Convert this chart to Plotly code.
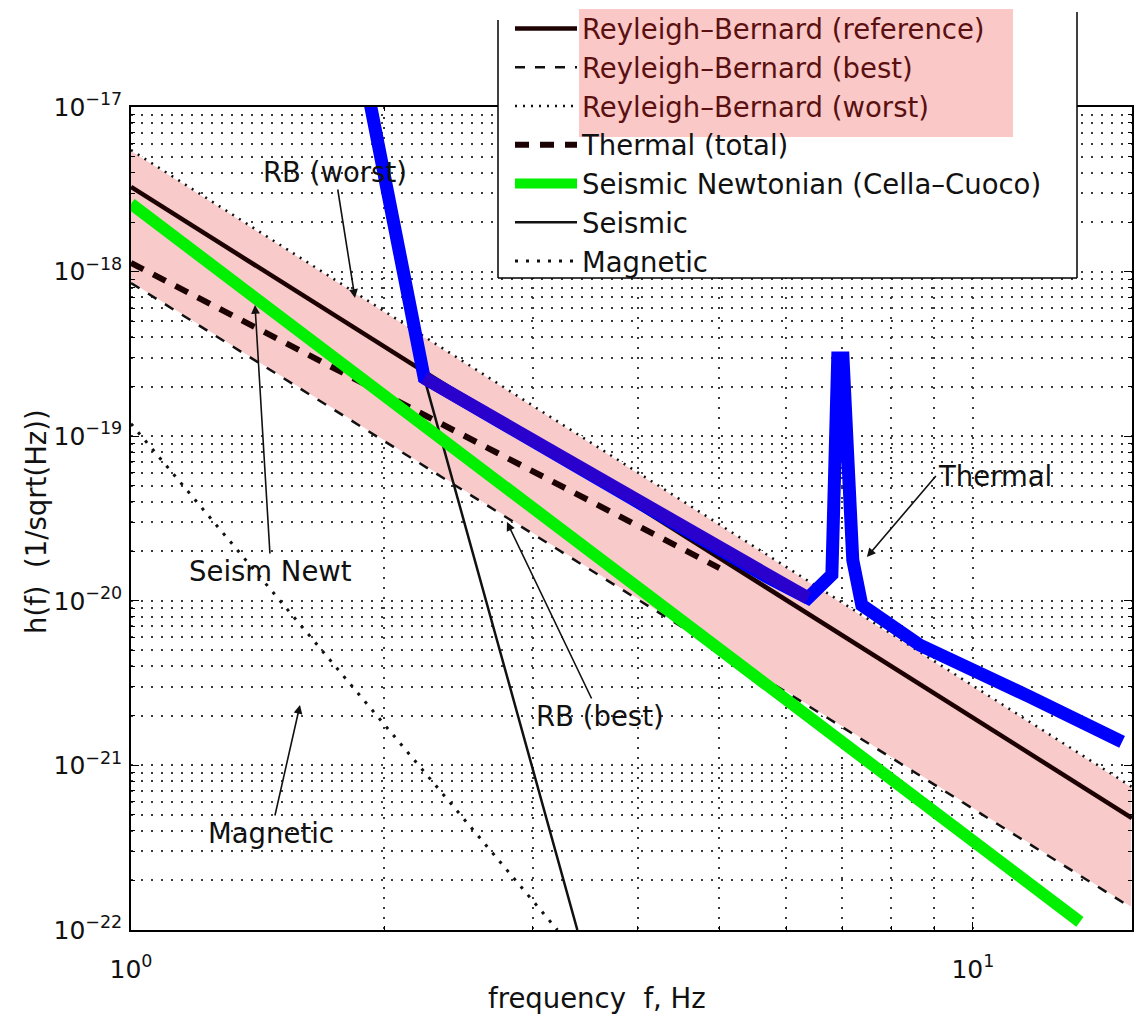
import plotly.graph_objects as go

# ---- noise budget curves, strain h(f) in 1/sqrt(Hz) vs frequency in Hz ----
f_rb = [1.0, 15.45]
h_rb_ref = [3.27e-18, 4.79e-22]
h_rb_best = [8.53e-19, 1.36e-22]
h_rb_worst = [5.48e-18, 7.4e-22]

f_thermal = [1.0, 5.0]
h_thermal = [1.13e-18, 1.58e-20]

f_newt = [1.0, 13.4]
h_newt = [2.58e-18, 1.12e-22]

f_seis = [1.93, 2.23, 3.39]
h_seis = [1.0e-17, 2.26e-19, 1.0e-22]

f_mag = [1.0, 3.21]
h_mag = [1.19e-19, 1.0e-22]

# hand-traced total sensitivity (blue), with the resonance spike near 7 Hz
f_total = [1.92, 2.23, 5.69, 6.37, 6.80, 6.91, 7.01, 7.20, 7.38, 8.65, 11.69, 15.04]
h_total = [1.1e-17, 2.26e-19, 1.40e-20, 1.04e-20, 1.44e-20, 2.99e-19, 2.99e-19,
           1.77e-20, 9.42e-21, 5.38e-21, 2.61e-21, 1.39e-21]
in_band = slice(1, 4)  # portion of the total running inside the RB band

# axis ticks (labelled decades) and grid positions
x_major = [1, 10]
x_major_text = ["10<sup>0</sup>", "10<sup>1</sup>"]
x_minor = [2, 3, 4, 5, 6, 7, 8, 9]
y_exponents = [-22, -21, -20, -19, -18, -17]
y_major = [10.0 ** e for e in y_exponents]
y_major_text = ["10<sup>\u2212%d</sup>" % abs(e) for e in y_exponents]
y_minor = [k * 10.0 ** e for e in y_exponents[:-1] for k in range(2, 10)]

FONT = "DejaVu Sans"
INK = "#111111"
BAND_INK = "#1c0202"
PINK = "#f9caca"
HL = "<span style='color:#5a1010'>%s</span>"
TXT = 27.5
TICK = 25

fig = go.Figure()

# RB uncertainty band between best and worst cases
fig.add_trace(go.Scatter(
    x=f_rb + f_rb[::-1], y=h_rb_worst + h_rb_best[::-1],
    fill="toself", fillcolor=PINK, mode="lines",
    line=dict(color="white", width=1.5), showlegend=False, hoverinfo="skip"))

fig.add_trace(go.Scatter(
    x=f_rb, y=h_rb_worst, mode="lines", name=HL % "Reyleigh\u2013Bernard (worst)",
    legendrank=3, line=dict(color=INK, width=2.5, dash="2px,6px")))
fig.add_trace(go.Scatter(
    x=f_rb, y=h_rb_best, mode="lines", name=HL % "Reyleigh\u2013Bernard (best)",
    legendrank=2, line=dict(color=INK, width=2.5, dash="10px,10px")))
fig.add_trace(go.Scatter(
    x=f_rb, y=h_rb_ref, mode="lines", name=HL % "Reyleigh\u2013Bernard (reference)",
    legendrank=1, line=dict(color=BAND_INK, width=4.5)))
fig.add_trace(go.Scatter(
    x=f_thermal, y=h_thermal, mode="lines", name="Thermal (total)",
    legendrank=4, line=dict(color=BAND_INK, width=6, dash="14px,11px")))
fig.add_trace(go.Scatter(
    x=f_mag, y=h_mag, mode="lines", name="Magnetic",
    legendrank=7, line=dict(color=INK, width=3, dash="3px,8px")))
fig.add_trace(go.Scatter(
    x=f_seis, y=h_seis, mode="lines", name="Seismic",
    legendrank=6, line=dict(color=INK, width=2.5)))
fig.add_trace(go.Scatter(
    x=f_newt, y=h_newt, mode="lines", name="Seismic Newtonian (Cella\u2013Cuoco)",
    legendrank=5, line=dict(color="#00f000", width=12)))

# total sensitivity
fig.add_trace(go.Scatter(
    x=f_total, y=h_total, mode="lines", showlegend=False,
    line=dict(color="#0000ff", width=13)))
fig.add_trace(go.Scatter(
    x=f_total[in_band], y=h_total[in_band], mode="lines", showlegend=False,
    line=dict(color="#2a00cc", width=13)))

GRID = dict(showgrid=True, gridcolor="#3a3a3a", gridwidth=1.5, griddash="2px,8px")
axis_common = dict(
    type="log", showline=True, linecolor="black", linewidth=1.5, mirror="ticks",
    ticks="inside", ticklen=8, tickcolor="black", tickmode="array",
    zeroline=False, tickfont=dict(family=FONT, size=TICK, color=INK), **GRID,
)
fig.update_xaxes(axis_common, range=[0, 1.189], tickvals=x_major, ticktext=x_major_text,
                 ticklabelstandoff=16,
                 minor=dict(tickmode="array", tickvals=x_minor, ticks="inside",
                            ticklen=4, tickcolor="black", **GRID))
fig.update_yaxes(axis_common, range=[-22, -17], tickvals=y_major, ticktext=y_major_text,
                 ticklabelstandoff=2,
                 minor=dict(tickmode="array", tickvals=y_minor, ticks="inside",
                            ticklen=4, tickcolor="black", **GRID))


def lx(px):
    return (px - 131) / 842.0


def ly(py):
    return -17 - (py - 107) / 164.6


def px_x(px):
    return (px - 131) / 1001.0


def px_y(py):
    return (930 - py) / 823.0


# axis titles
fig.add_annotation(xref="paper", yref="paper", x=px_x(597), y=px_y(998),
                   xanchor="center", yanchor="middle",
                   text="frequency  f, Hz", showarrow=False,
                   font=dict(family=FONT, size=TXT, color=INK))
fig.add_annotation(xref="paper", yref="paper", x=px_x(36), y=px_y(522),
                   xanchor="center", yanchor="middle",
                   text="h(f)  (1/sqrt(Hz))", showarrow=False, textangle=-90,
                   font=dict(family=FONT, size=TXT, color=INK))

# labels with arrows pointing at the curves: (text, head x, head y, tail offset, anchor)
labels = [
    ("RB (worst)", 355, 298, -20, -126, "center"),
    ("Seism Newt", 255, 305, 16, 266, "center"),
    ("Magnetic", 300, 705, -29, 128, "center"),
    ("RB (best)", 507, 522, 93, 194, "center"),
    ("Thermal", 867, 557, 69, -81, "left"),
]
for text, hx, hy, dx, dy, anchor in labels:
    fig.add_annotation(x=lx(hx), y=ly(hy), text=text, showarrow=True, ax=dx, ay=dy,
                       xanchor=anchor, arrowhead=2, arrowsize=1.1, arrowwidth=1.6,
                       arrowcolor=INK, font=dict(family=FONT, size=TXT, color=INK))

# legend frame and highlight behind the Reyleigh-Bernard entries
fig.add_shape(type="rect", xref="paper", yref="paper", layer="above",
              x0=px_x(498), x1=px_x(1077), y0=px_y(278), y1=px_y(-5),
              fillcolor="white", line=dict(width=0))
for x0, y0, x1, y1 in [(498, 20, 498, 278), (498, 278, 1077, 278), (1077, 12, 1077, 278)]:
    fig.add_shape(type="line", xref="paper", yref="paper", layer="above",
                  x0=px_x(x0), y0=px_y(y0), x1=px_x(x1), y1=px_y(y1),
                  line=dict(color="black", width=1.5))
fig.add_shape(type="rect", xref="paper", yref="paper", layer="above",
              x0=px_x(579), x1=px_x(1013), y0=px_y(137), y1=px_y(9),
              fillcolor="#fbc8c8", line=dict(width=0))

fig.update_layout(
    width=1140, height=1027,
    margin=dict(l=131, r=8, t=107, b=97, autoexpand=False),
    paper_bgcolor="white", plot_bgcolor="white",
    font=dict(family=FONT, size=TXT, color=INK),
    legend=dict(xref="container", yref="container", x=510 / 1140, y=1 - 4 / 1027,
                xanchor="left", yanchor="top", bgcolor="rgba(0,0,0,0)",
                borderwidth=0, itemwidth=62, tracegroupgap=0,
                font=dict(family=FONT, size=TXT, color=INK)),
    showlegend=True,
)

fig.write_html("out.html")
